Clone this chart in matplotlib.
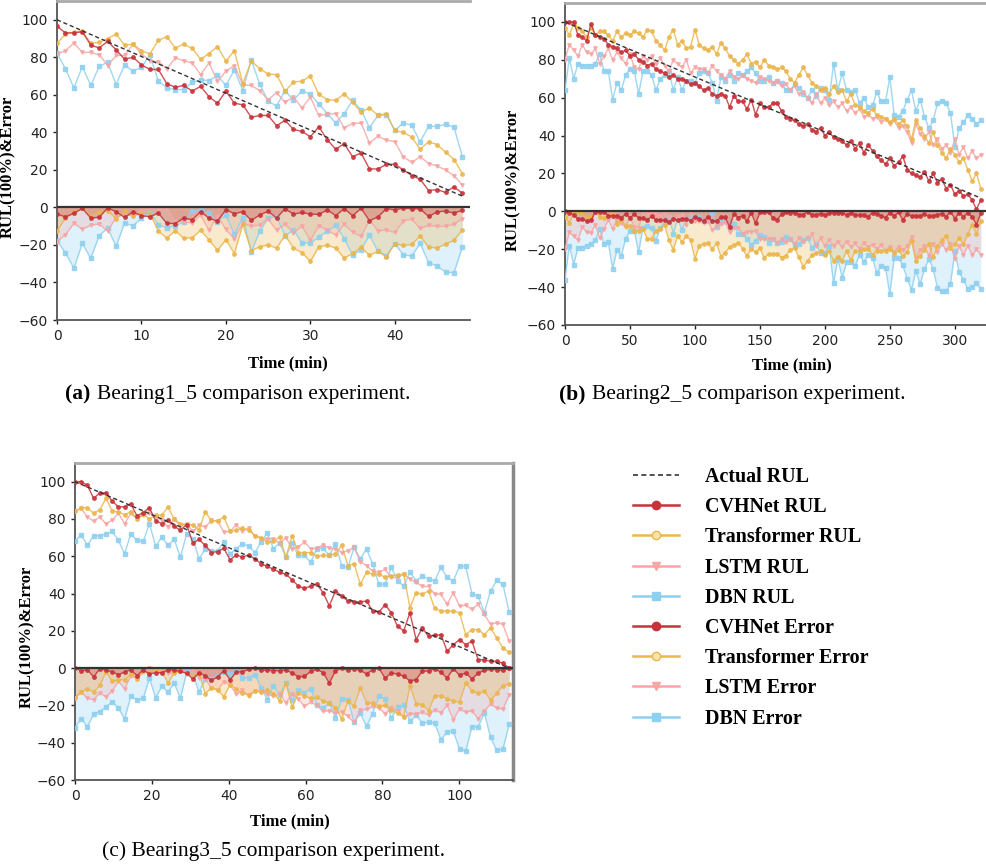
import numpy as np
import matplotlib
matplotlib.use("Agg")
import matplotlib.pyplot as plt
from matplotlib.lines import Line2D

# ---------------- data ----------------
# (a) Bearing1_5, one point per minute
time_a = np.arange(49)
actual_a_t = [0, 48]
actual_a = [100, 6]
cvh_a = [96.5, 93, 93, 93.6, 86.5, 85, 88.5, 84, 79, 80,
         76, 73.5, 73.5, 66, 64, 65, 62, 64.5, 59, 55.5,
         62, 55.5, 54.7, 48, 49, 49, 43.5, 46.4, 41.6, 40.5,
         37.7, 43, 36, 31, 34, 27, 29, 20.5, 20.5, 23,
         23, 20, 17, 15, 9, 9.5, 8, 11, 7.5]
trans_a = [87.4, 92.4, 93.5, 94, 87.4, 88, 90, 92.4, 86.5, 87,
           83.5, 81.8, 89, 91, 85, 87, 84.8, 79, 82, 85.7,
           78, 83.5, 66, 78, 74, 71, 70.8, 62, 66.8, 67.3,
           70, 60.2, 57.5, 57, 60.5, 56, 50.8, 53, 49, 50,
           41, 40, 37.5, 31, 35, 33.5, 29.5, 25.5, 18]
lstm_a = [81.8, 83.5, 87.6, 82.6, 82.6, 81.4, 75.6, 81, 81, 87,
          81.8, 78.2, 77.7, 73.8, 79.6, 78.2, 77, 70.8, 77, 67.3,
          72.6, 75.6, 65.3, 65, 62.3, 57.3, 61.2, 56, 58.8, 53,
          58.8, 49, 49.6, 50, 42.5, 44.6, 45, 34.3, 38, 35.8,
          35, 27, 24, 27, 23.4, 22, 20, 17, 12]
dbn_a = [82.3, 73.8, 63.7, 75, 65, 75.2, 77.3, 65.5, 76, 72.6,
         74.7, 81.2, 67.3, 63.7, 62.8, 62.8, 66.7, 68, 67.6, 70.3,
         65, 73.3, 62.3, 78.6, 65.8, 56.6, 54, 62.3, 57, 62.3,
         60.2, 55.2, 50, 45, 50, 57, 52, 42.5, 49, 49.4,
         41, 45, 43.7, 35, 43.2, 43.2, 44.3, 42.8, 27]

# (b) Bearing2_5
time_b = np.linspace(0, 320, 97)
actual_b_t = [0, 320]
actual_b = [100, 7]
cvh_b = [100, 100, 100, 93, 92, 90, 99, 93, 92, 91,
         88, 87, 86, 84, 85, 82, 83, 80, 79, 77,
         78, 75, 74, 73, 71, 72, 70, 70, 69, 67,
         68, 66, 64, 65, 62, 61, 62, 61, 55, 61,
         58, 58, 54, 59, 51, 57, 55, 55, 57, 57,
         53, 50, 49, 48, 46, 45, 46, 43, 42, 44,
         40, 42, 39, 38, 37, 35, 37, 33, 36, 31,
         35, 32, 29, 27, 25, 28, 24, 26, 29, 22,
         20, 19, 18, 21, 16, 20, 15, 17, 12, 14,
         9, 11, 8, 9, 6, 1, 6]
trans_b = [97, 93, 99, 97, 95, 92, 97, 93, 95, 95,
           93, 90, 95, 92, 94, 93, 95, 94, 92, 96,
           95, 90, 88, 85, 92, 96, 88, 90, 86, 87,
           96, 88, 86, 85, 87, 83, 89, 86, 82, 80,
           78, 80, 83, 78, 79, 76, 80, 77, 76, 75,
           76, 74, 70, 68, 72, 76, 72, 68, 66, 64,
           65, 62, 66, 63, 64, 58, 62, 56, 55, 53,
           52, 54, 51, 50, 49, 47, 49, 46, 48, 45,
           38, 48, 44, 40, 36, 42, 35, 31, 28, 33,
           30, 26, 28, 22, 16, 20, 12]
lstm_b = [80, 88, 85, 82, 88, 84, 83, 86, 78, 82,
          86, 80, 84, 81, 78, 83, 76, 75, 82, 80,
          82, 78, 81, 77, 74, 80, 78, 76, 80, 73,
          76, 75, 75, 73, 77, 74, 72, 70, 74, 71,
          70, 72, 70, 69, 68, 71, 70, 69, 68, 69,
          66, 67, 64, 66, 62, 63, 60, 57, 62, 57,
          60, 56, 58, 55, 57, 53, 55, 52, 54, 50,
          51, 49, 50, 47, 49, 46, 48, 44, 45, 42,
          36, 46, 41, 38, 42, 35, 38, 33, 35, 31,
          38, 30, 34, 28, 32, 28, 30]
dbn_b = [64, 81, 70, 78, 77, 77, 77, 78, 83, 74,
         74, 59, 68, 64, 72, 75, 74, 62, 74, 74,
         72, 64, 70, 72, 74, 64, 71, 64, 69, 69,
         68, 73, 74, 73, 68, 58, 71, 69, 72, 69,
         73, 72, 74, 76, 73, 69, 69, 71, 68, 69,
         68, 64, 64, 67, 65, 62, 60, 64, 61, 65,
         64, 59, 78, 64, 73, 64, 63, 64, 57, 60,
         55, 56, 63, 58, 58, 71, 51, 50, 53, 59,
         64, 53, 59, 50, 44, 48, 57, 58, 57, 52,
         34, 44, 47, 51, 49, 46, 48]

# (c) Bearing3_5
time_c = np.linspace(0, 113, 71)
actual_c_t = [0, 113]
actual_c = [100, 0]
cvh_c = [100, 100, 98, 91, 94, 94, 89.5, 86.5, 86.5, 88,
         81.6, 83.4, 86, 79, 77.5, 79.5, 76, 74, 77, 67,
         69, 65.8, 62, 62.5, 64.3, 58, 60.7, 59.5, 60.7, 58.6,
         56, 54.6, 53, 51.4, 50.4, 47.4, 44, 42.7, 44, 45,
         40.5, 33.4, 41.4, 38.7, 36, 35.5, 35.5, 36, 30.6, 30,
         34, 29.7, 22.5, 20, 29.7, 15.3, 21.6, 17, 17.5, 18,
         9, 12.6, 15.3, 12.6, 14.4, 4.5, 4.5, 3.6, 3.6, 2.7,
         0]
trans_c = [84, 86, 86, 83, 85, 91, 84.3, 83.8, 82.3, 83.8,
           80, 82.5, 80, 82, 82, 86.5, 79.8, 77.5, 77, 77,
           74, 83.8, 79, 79, 81, 73.3, 74, 75, 74.2, 71,
           70, 67.6, 68, 70.3, 59.5, 71, 62, 62, 62, 60,
           60.4, 60.4, 61.3, 65.8, 55, 56, 45, 51.4, 50.4, 50.4,
           48.6, 49.5, 50, 50.4, 32.4, 40.5, 39.6, 41.4, 32, 30.6,
           30.6, 30.6, 29.7, 18, 20.7, 20.7, 18, 21.6, 16.2, 10.8,
           8.5]
lstm_c = [84, 85.6, 81, 78.8, 81, 77.5, 79.3, 83, 77.5, 83,
          80, 82, 83, 81, 79.3, 75.7, 80, 76.2, 77.5, 73.3,
          76.6, 75.7, 79.3, 78.8, 73, 73.3, 77, 73.3, 75, 71,
          69.4, 69.4, 69.4, 66.7, 70, 64, 65, 67.6, 64, 64.3,
          66, 64.3, 64, 62, 63, 64.8, 57, 55, 52, 51.4,
          53, 48.6, 48.6, 50.4, 47.7, 46, 43.8, 43.8, 39.6, 39.6,
          34.2, 40.5, 33.3, 33.7, 31.5, 34.2, 28.8, 23.4, 24.3, 23.4,
          14.4]
dbn_c = [68, 71.5, 65.8, 71, 71, 72, 73.3, 68.5, 61.3, 72,
         68.5, 68, 77.5, 65.4, 70.3, 65.8, 69, 59.5, 72, 69.4,
         58.6, 64, 63, 63, 67.6, 61.3, 64, 66.7, 65.4, 62,
         67.6, 72.6, 64, 67.2, 59.5, 67.2, 60.4, 60.4, 56.8, 64,
         64.3, 60.4, 66.7, 55, 54, 64.8, 58.6, 64, 55.8, 45,
         45, 54, 46.8, 44, 51.4, 46.8, 49.5, 47.7, 46.8, 54,
         48.6, 46.8, 54.8, 54.5, 40, 38.7, 29.7, 41.4, 47, 45,
         30]

models = ["CVHNet", "Transformer", "LSTM", "DBN"]
colors = {"CVHNet": "#c8323a", "Transformer": "#ebb64c",
          "LSTM": "#f7a5a5", "DBN": "#8ed0f0"}
markers = {"CVHNet": "o", "Transformer": "o", "LSTM": "v", "DBN": "s"}

SERIF = "Liberation Serif"

W, H = 986, 867
fig = plt.figure(figsize=(W / 100, H / 100), dpi=100)


def px_axes(l, t, r, b):
    return fig.add_axes([l / W, 1 - b / H, (r - l) / W, (b - t) / H])


def draw(ax, t, act_t, act_v, preds):
    actual = np.interp(t, act_t, act_v)
    # draw back to front so CVHNet ends up on top
    for name in models[::-1]:
        vals = np.asarray(preds[name], dtype=float)
        err = -np.abs(vals - actual)
        c, m = colors[name], markers[name]
        ax.plot(t, vals, color=c, marker=m, ms=2.5, lw=1.0, alpha=0.85, zorder=3)
        ax.fill_between(t, err, 0, color=c, alpha=0.28, lw=0, zorder=2)
        ax.plot(t, err, color=c, marker=m, ms=2.5, lw=1.0, alpha=0.85, zorder=3)
    ax.plot(act_t, act_v, color="#333333", lw=1.0, ls=(0, (3, 2)), zorder=6)
    ax.axhline(0, color="#333333", lw=1.6, zorder=5)
    ax.set_ylim(-60, 110)
    ax.set_yticks([-60, -40, -20, 0, 20, 40, 60, 80, 100])
    ax.tick_params(labelsize=10, length=3, width=1, colors="#222222")
    for s in ["left", "bottom"]:
        ax.spines[s].set_color("#555555")
        ax.spines[s].set_linewidth(1.3)
    for s in ["top", "right"]:
        ax.spines[s].set_color("#aaaaaa")
        ax.spines[s].set_linewidth(2)
    ax.set_ylabel("RUL(100%)&Error", family=SERIF, fontweight="bold", fontsize=12)
    ax.set_xlabel("Time (min)", family=SERIF, fontweight="bold", fontsize=12)


ax_a = px_axes(57, 1, 470, 320)
draw(ax_a, time_a, actual_a_t, actual_a,
     {"CVHNet": cvh_a, "Transformer": trans_a, "LSTM": lstm_a, "DBN": dbn_a})
ax_a.set_xlim(0, 48.9)
ax_a.set_xticks([0, 10, 20, 30, 40])
ax_a.spines["right"].set_visible(False)
ax_a.yaxis.set_label_coords(-0.1, 0.48)
ax_a.xaxis.set_label_coords(0.56, -0.11)

ax_b = px_axes(565, 3, 986, 325)
draw(ax_b, time_b, actual_b_t, actual_b,
     {"CVHNet": cvh_b, "Transformer": trans_b, "LSTM": lstm_b, "DBN": dbn_b})
ax_b.set_xlim(0, 324)
ax_b.set_xticks([0, 50, 100, 150, 200, 250, 300])
ax_b.spines["right"].set_visible(False)
ax_b.yaxis.set_label_coords(-0.105, 0.45)
ax_b.xaxis.set_label_coords(0.54, -0.1)

ax_c = px_axes(75, 463, 513, 780)
draw(ax_c, time_c, actual_c_t, actual_c,
     {"CVHNet": cvh_c, "Transformer": trans_c, "LSTM": lstm_c, "DBN": dbn_c})
ax_c.set_xlim(0, 114)
ax_c.set_xticks([0, 20, 40, 60, 80, 100])
ax_c.spines["right"].set_color("#888888")
ax_c.spines["right"].set_linewidth(2.5)
ax_c.yaxis.set_label_coords(-0.092, 0.45)
ax_c.xaxis.set_label_coords(0.49, -0.104)

# captions
cap = dict(family=SERIF, fontsize=15.5, va="center")
fig.text(90 / W, 1 - 394 / H, "(a)", ha="right", fontweight="bold", **cap)
fig.text(97 / W, 1 - 394 / H, "Bearing1_5 comparison experiment.", ha="left", **cap)
fig.text(586 / W, 1 - 394 / H, "(b)", ha="right", fontweight="bold", **cap)
fig.text(592 / W, 1 - 394 / H, "Bearing2_5 comparison experiment.", ha="left", **cap)
fig.text(274 / W, 1 - 851 / H, "(c) Bearing3_5 comparison experiment.", ha="center", **cap)

# legend
handles = [Line2D([], [], color="#333333", ls=(0, (3, 2)), lw=1.2)]
labels = ["Actual RUL"]
for kind in ["RUL", "Error"]:
    for name in models:
        mfc = "#f7e3b0" if name == "Transformer" else colors[name]
        handles.append(Line2D([], [], color=colors[name], marker=markers[name],
                              ms=6, lw=1.8, mfc=mfc))
        labels.append(f"{name} {kind}")
fig.legend(handles, labels, loc="upper left", bbox_to_anchor=(615 / W, 1 - 449 / H),
           frameon=False, prop={"family": SERIF, "weight": "bold", "size": 14.4},
           handlelength=2.3, handletextpad=1.3, labelspacing=0.51)

fig.savefig("out.png", dpi=100)
